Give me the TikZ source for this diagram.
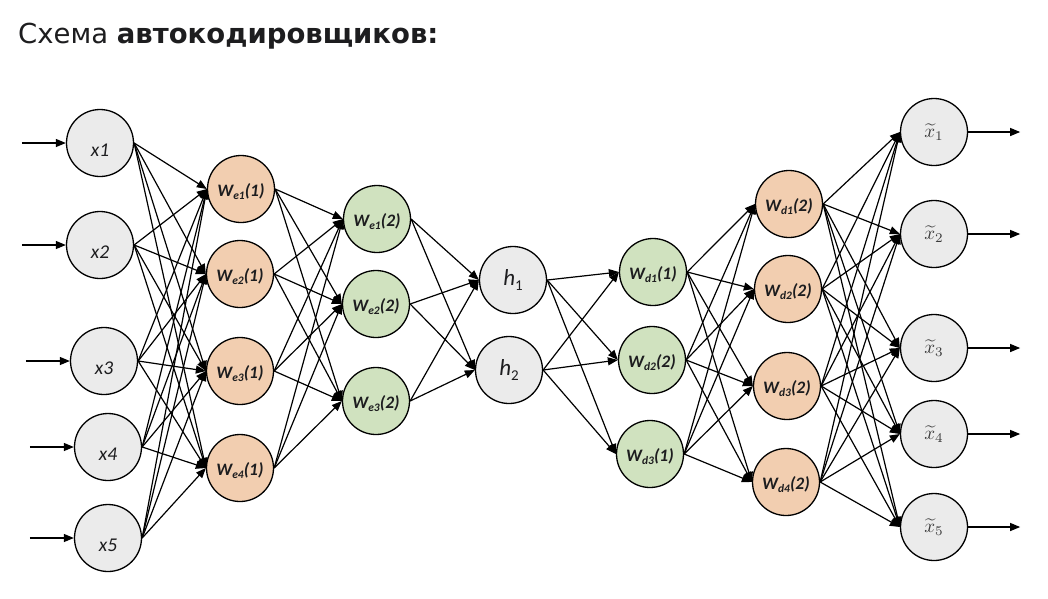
\documentclass[tikz,border=0pt]{standalone}
\usepackage{fontspec}
\setmainfont{DejaVu Sans}
\newfontfamily\carl{Carlito}
\usetikzlibrary{arrows.meta}
\definecolor{ngray}{HTML}{EBEBEB}
\definecolor{norange}{HTML}{F2CEB0}
\definecolor{ngreen}{HTML}{D0E2BF}
\definecolor{ink}{HTML}{1D1D1F}
\definecolor{outink}{HTML}{3A3A3A}
\newcommand\wlab[2]{\raisebox{-3pt}[\height][\depth]{\carl\bfseries\itshape\fontsize{17.5}{17.5}\selectfont W\raisebox{-0.35ex}{\fontsize{11.5}{11.5}\selectfont #1}(#2)}}
\newcommand\xlab[1]{\raisebox{-7pt}[\height][\depth]{\carl\itshape\fontsize{19.5}{19.5}\selectfont x#1}}
\newcommand\hlab[1]{{\carl\itshape\fontsize{23}{23}\selectfont h\raisebox{-0.45ex}{\upshape\fontsize{15}{15}\selectfont #1}}}
\newcommand\ylab[1]{{\color{outink}\scalebox{1.9}{$\widetilde{x}_{#1}$}}}
\begin{document}
\begin{tikzpicture}[x=1pt,y=-1pt,
  neuron/.style={circle,draw=black,line width=1.3pt,minimum size=67pt,inner sep=0pt,text=ink},
  inp/.style={neuron,fill=ngray},
  enc/.style={neuron,fill=norange},
  mid/.style={neuron,fill=ngreen},
  hid/.style={neuron,fill=ngray},
  outp/.style={neuron,fill=ngray},
  conn/.style={line width=1.2pt,-{Triangle[length=10pt,width=8pt]}}]
\useasboundingbox (0,0) rectangle (1048,598);
\node[anchor=base west,inner sep=0pt,text=ink] (title) at (18,43)
  {\fontsize{27.5}{30}\selectfont Схема \textbf{автокодировщиков:}};
% input layer
\node[inp] (x1) at (100,143) {\xlab{1}};
\node[inp] (x2) at (100,245) {\xlab{2}};
\node[inp] (x3) at (104,361) {\xlab{3}};
\node[inp] (x4) at (108,447) {\xlab{4}};
\node[inp] (x5) at (108,538) {\xlab{5}};
% encoder 1
\node[enc] (a1) at (241,189) {\wlab{e1}{1}};
\node[enc] (a2) at (240,274) {\wlab{e2}{1}};
\node[enc] (a3) at (240,371) {\wlab{e3}{1}};
\node[enc] (a4) at (240,468) {\wlab{e4}{1}};
% encoder 2
\node[mid] (b1) at (377,219) {\wlab{e1}{2}};
\node[mid] (b2) at (376,304) {\wlab{e2}{2}};
\node[mid] (b3) at (376,401) {\wlab{e3}{2}};
% hidden
\node[hid] (h1) at (513,280) {\hlab{1}};
\node[hid] (h2) at (509,370) {\hlab{2}};
% decoder 1
\node[mid] (c1) at (653,272) {\wlab{d1}{1}};
\node[mid] (c2) at (652,360) {\wlab{d2}{2}};
\node[mid] (c3) at (650,454) {\wlab{d3}{1}};
% decoder 2
\node[enc] (d1) at (789,204) {\wlab{d1}{2}};
\node[enc] (d2) at (788,289) {\wlab{d2}{2}};
\node[enc] (d3) at (787,386) {\wlab{d3}{2}};
\node[enc] (d4) at (786,482) {\wlab{d4}{2}};
% outputs
\node[outp] (y1) at (934,132) {\ylab{1}};
\node[outp] (y2) at (934,234) {\ylab{2}};
\node[outp] (y3) at (934,348) {\ylab{3}};
\node[outp] (y4) at (934,434) {\ylab{4}};
\node[outp] (y5) at (934,527) {\ylab{5}};
% input / output arrows
\foreach \i in {1,...,5} {
  \coordinate (in\i) at ([xshift=-44pt]x\i.west);
  \draw[conn] (in\i) -- (x\i.west);
  \coordinate (out\i) at ([xshift=52pt]y\i.east);
  \draw[conn] (y\i.east) -- (out\i);
}
% connections
\foreach \i in {1,...,5} \foreach \j in {1,...,4} \draw[conn] (x\i.east) -- (a\j.west);
\foreach \i in {1,...,4} \foreach \j in {1,...,3} \draw[conn] (a\i.east) -- (b\j.west);
\foreach \i in {1,...,3} \foreach \j in {1,2} \draw[conn] (b\i.east) -- (h\j.west);
\foreach \i in {1,2} \foreach \j in {1,...,3} \draw[conn] (h\i.east) -- (c\j.west);
\foreach \i in {1,...,3} \foreach \j in {1,...,4} \draw[conn] (c\i.east) -- (d\j.west);
\foreach \i in {1,...,4} \foreach \j in {1,...,5} \draw[conn] (d\i.east) -- (y\j.west);
\end{tikzpicture}
\end{document}
